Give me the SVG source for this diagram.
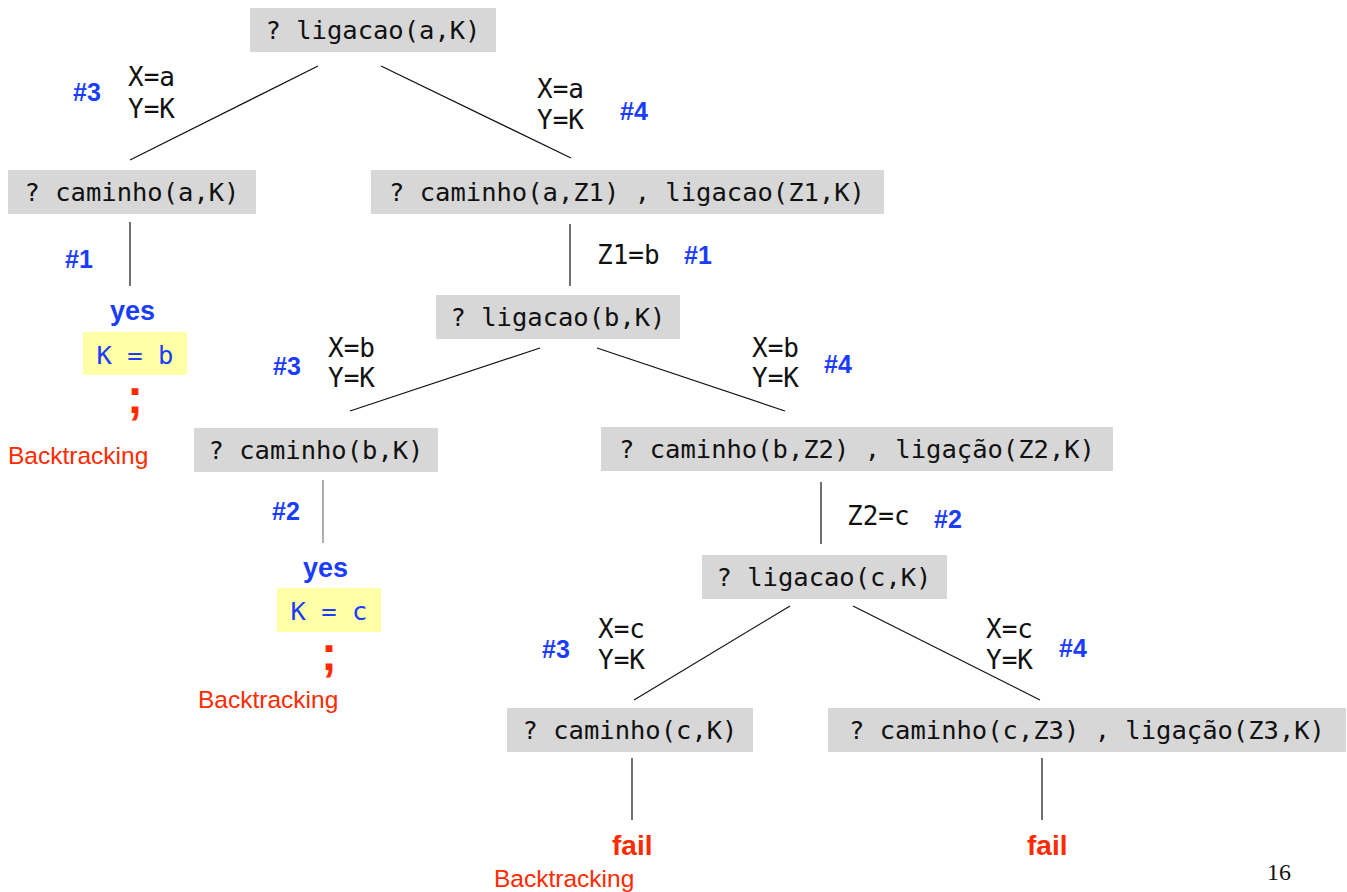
<svg xmlns="http://www.w3.org/2000/svg" width="1347" height="892" viewBox="0 0 1347 892">
<style>
.box{fill:#d7d7d7}
.ans{fill:#ffffa8}
.mono{font-family:"DejaVu Sans Mono","Liberation Mono",monospace;font-size:25.5px;fill:#111}
.lbl{font-family:"DejaVu Sans Mono","Liberation Mono",monospace;font-size:26px;fill:#111}
.num{font-family:"Liberation Sans",Arial,sans-serif;font-weight:bold;font-size:25px;fill:#1a3cff}
.yes{font-family:"Liberation Sans",Arial,sans-serif;font-weight:bold;font-size:27px;fill:#1a3cff}
.val{font-family:"DejaVu Sans Mono","Liberation Mono",monospace;font-size:25.5px;fill:#1a3cff}
.semi{font-family:"Liberation Sans",Arial,sans-serif;font-weight:bold;font-size:48px;fill:#ff2a00}
.bt{font-family:"Liberation Sans",Arial,sans-serif;font-size:24.5px;fill:#ff2a00}
.fail{font-family:"Liberation Sans",Arial,sans-serif;font-weight:bold;font-size:28px;fill:#ff2a00}
.edge{stroke:#111;stroke-width:1.2;fill:none}
</style>
<g id="connectors">
<line class="edge" x1="318" y1="66" x2="130" y2="160"/>
<line class="edge" x1="381" y1="66" x2="571" y2="158"/>
<line class="edge" x1="130" y1="222" x2="130" y2="286"/>
<line class="edge" x1="570" y1="224" x2="570" y2="286"/>
<line class="edge" x1="540" y1="348" x2="350" y2="411"/>
<line class="edge" x1="597" y1="348" x2="785" y2="411"/>
<line class="edge" x1="323" y1="480" x2="323" y2="543" style="stroke:#777"/>
<line class="edge" x1="821" y1="482" x2="821" y2="544"/>
<line class="edge" x1="790" y1="606" x2="634" y2="700"/>
<line class="edge" x1="853" y1="606" x2="1040" y2="700"/>
<line class="edge" x1="632" y1="758" x2="632" y2="820"/>
<line class="edge" x1="1042" y1="758" x2="1042" y2="820"/>
</g>
<g id="n1"><rect class="box" x="250" y="8" width="246" height="44"/><text class="mono" x="373" y="39" text-anchor="middle">? ligacao(a,K)</text></g>
<g id="n2"><rect class="box" x="8" y="170" width="248" height="44"/><text class="mono" x="132" y="201" text-anchor="middle">? caminho(a,K)</text></g>
<g id="n3"><rect class="box" x="371" y="170" width="513" height="44"/><text class="mono" x="627" y="201" text-anchor="middle">? caminho(a,Z1) , ligacao(Z1,K)</text></g>
<g id="n4"><rect class="box" x="436" y="295" width="244" height="44"/><text class="mono" x="558" y="326" text-anchor="middle">? ligacao(b,K)</text></g>
<g id="n5"><rect class="box" x="194" y="428" width="244" height="44"/><text class="mono" x="316" y="459" text-anchor="middle">? caminho(b,K)</text></g>
<g id="n6"><rect class="box" x="601" y="427" width="512" height="44"/><text class="mono" x="857" y="458" text-anchor="middle">? caminho(b,Z2) , ligação(Z2,K)</text></g>
<g id="n7"><rect class="box" x="702" y="555" width="245" height="44"/><text class="mono" x="824" y="586" text-anchor="middle">? ligacao(c,K)</text></g>
<g id="n8"><rect class="box" x="507" y="708" width="246" height="44"/><text class="mono" x="630" y="739" text-anchor="middle">? caminho(c,K)</text></g>
<g id="n9"><rect class="box" x="828" y="708" width="518" height="44"/><text class="mono" x="1087" y="739" text-anchor="middle">? caminho(c,Z3) , ligação(Z3,K)</text></g>
<g id="labels">
<text class="num" x="73" y="101">#3</text>
<text class="lbl" x="128" y="86">X=a</text><text class="lbl" x="128" y="118">Y=K</text>
<text class="lbl" x="537" y="98">X=a</text><text class="lbl" x="537" y="129">Y=K</text>
<text class="num" x="620" y="120">#4</text>
<text class="num" x="65" y="268">#1</text>
<text class="lbl" x="597" y="264">Z1=b</text>
<text class="num" x="684" y="264">#1</text>
<text class="num" x="273" y="375">#3</text>
<text class="lbl" x="328" y="357">X=b</text><text class="lbl" x="328" y="387">Y=K</text>
<text class="lbl" x="752" y="357">X=b</text><text class="lbl" x="752" y="387">Y=K</text>
<text class="num" x="824" y="373">#4</text>
<text class="num" x="272" y="520">#2</text>
<text class="lbl" x="847" y="525">Z2=c</text>
<text class="num" x="934" y="528">#2</text>
<text class="num" x="542" y="658">#3</text>
<text class="lbl" x="598" y="638">X=c</text><text class="lbl" x="598" y="669">Y=K</text>
<text class="lbl" x="986" y="638">X=c</text><text class="lbl" x="986" y="669">Y=K</text>
<text class="num" x="1059" y="657">#4</text>
</g>
<g id="result1">
<text class="yes" x="110" y="320">yes</text>
<rect class="ans" x="83" y="332" width="104" height="43"/>
<text class="val" x="135" y="364" text-anchor="middle">K = b</text>
<text class="semi" x="135" y="413" text-anchor="middle">;</text>
<text class="bt" x="8" y="464">Backtracking</text>
</g>
<g id="result2">
<text class="yes" x="303" y="577">yes</text>
<rect class="ans" x="277" y="588" width="104" height="44"/>
<text class="val" x="329" y="620" text-anchor="middle">K = c</text>
<text class="semi" x="329" y="670" text-anchor="middle">;</text>
<text class="bt" x="198" y="708">Backtracking</text>
</g>
<g id="result3">
<text class="fail" x="612" y="855">fail</text>
<text class="bt" x="494" y="887">Backtracking</text>
</g>
<g id="result4">
<text class="fail" x="1027" y="855">fail</text>
</g>
<text x="1267" y="880" style="font-family:'Liberation Serif','Times New Roman',serif;font-size:24px;fill:#111">16</text>
</svg>
